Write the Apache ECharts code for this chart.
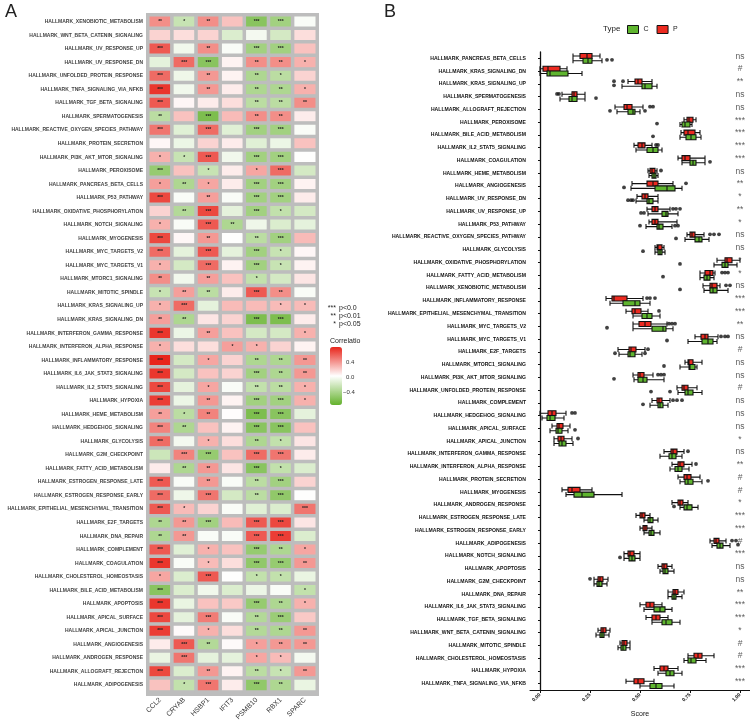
<!DOCTYPE html>
<html>
<head>
<meta charset="utf-8">
<script src="https://cdn.jsdelivr.net/npm/echarts@6/dist/echarts.min.js"></script>
<style>
  html, body { margin: 0; padding: 0; background: #fff; }
  #chart { width: 750px; height: 723px; }
</style>
</head>
<body>
<div id="chart"></div>
<script>
// ---- panel A: correlation heatmap ----
const heatRows = ['XENOBIOTIC_METABOLISM','WNT_BETA_CATENIN_SIGNALING','UV_RESPONSE_UP','UV_RESPONSE_DN',
  'UNFOLDED_PROTEIN_RESPONSE','TNFA_SIGNALING_VIA_NFKB','TGF_BETA_SIGNALING','SPERMATOGENESIS',
  'REACTIVE_OXYGEN_SPECIES_PATHWAY','PROTEIN_SECRETION','PI3K_AKT_MTOR_SIGNALING','PEROXISOME',
  'PANCREAS_BETA_CELLS','P53_PATHWAY','OXIDATIVE_PHOSPHORYLATION','NOTCH_SIGNALING','MYOGENESIS',
  'MYC_TARGETS_V2','MYC_TARGETS_V1','MTORC1_SIGNALING','MITOTIC_SPINDLE','KRAS_SIGNALING_UP',
  'KRAS_SIGNALING_DN','INTERFERON_GAMMA_RESPONSE','INTERFERON_ALPHA_RESPONSE','INFLAMMATORY_RESPONSE',
  'IL6_JAK_STAT3_SIGNALING','IL2_STAT5_SIGNALING','HYPOXIA','HEME_METABOLISM','HEDGEHOG_SIGNALING',
  'GLYCOLYSIS','G2M_CHECKPOINT','FATTY_ACID_METABOLISM','ESTROGEN_RESPONSE_LATE','ESTROGEN_RESPONSE_EARLY',
  'EPITHELIAL_MESENCHYMAL_TRANSITION','E2F_TARGETS','DNA_REPAIR','COMPLEMENT','COAGULATION',
  'CHOLESTEROL_HOMEOSTASIS','BILE_ACID_METABOLISM','APOPTOSIS','APICAL_SURFACE','APICAL_JUNCTION',
  'ANGIOGENESIS','ANDROGEN_RESPONSE','ALLOGRAFT_REJECTION','ADIPOGENESIS'];
const genes = ['CCL2','CRYAB','HSBP1','IFIT3','PSMB10','RBX1','SPARC'];

const corCCL2 = [0.35,0.15,0.5,-0.08,0.45,0.6,0.5,-0.25,0.42,0.05, 0.25,-0.4,0.3,0.55,0.15,0.25,0.55,0.45,0.25,0.35,
  -0.2,0.25,0.3,0.6,0.25,0.65,0.6,0.55,0.58,0.3, 0.38,0.45,-0.18,0.08,0.5,0.45,0.5,-0.3,-0.3,0.5,
  0.6,0.28,-0.45,0.6,0.55,0.58,0.08,-0.06,0.55,0.2];
const corCRYAB = [-0.2,0.12,-0.03,0.45,-0.04,-0.03,0.05,0.2,-0.1,-0.05, -0.2,0.2,-0.3,0.0,-0.28,0.0,0.05,-0.08,-0.15,-0.03,
  0.3,0.45,-0.3,-0.05,0.12,-0.15,-0.15,-0.08,-0.05,-0.25, -0.3,-0.02,0.38,-0.3,0.0,-0.04,0.22,0.32,0.32,-0.1,
  0.0,-0.12,-0.12,-0.06,-0.08,0.04,0.5,0.42,-0.12,-0.22];
const corHSBP1 = [0.35,0.15,0.35,-0.45,0.32,0.32,0.08,-0.5,0.45,0.15, 0.5,-0.2,0.28,0.3,0.55,0.5,0.32,0.5,0.45,0.3,
  -0.25,-0.08,0.1,0.3,0.12,0.28,0.2,0.28,0.32,0.38, 0.2,0.25,-0.4,0.32,0.32,0.42,0.15,-0.35,0.0,0.25,
  0.22,0.5,-0.03,0.2,0.4,0.25,-0.28,-0.08,0.32,0.42];
const corIFIT3 = [0.2,-0.12,0.0,0.06,0.06,0.08,0.12,0.22,-0.1,0.08, -0.03,0.08,0.08,0.0,-0.08,-0.3,0.02,-0.08,0.06,0.2,
  0.08,0.22,0.15,0.2,0.3,0.15,0.15,0.0,0.06,0.03, 0.06,0.12,0.2,0.1,0.0,-0.15,0.0,0.22,0.0,0.2,
  0.12,0.02,-0.12,0.18,0.0,0.12,0.04,-0.08,0.06,0.08];
const corPSMB10 = [-0.45,-0.02,-0.35,0.35,-0.3,-0.3,-0.25,0.35,-0.35,-0.1, -0.35,0.28,-0.35,-0.35,-0.35,-0.04,-0.25,-0.35,-0.35,-0.22,
  0.5,0.22,-0.5,-0.15,0.25,-0.3,-0.35,-0.22,-0.35,-0.5, -0.45,-0.3,0.45,-0.45,-0.25,-0.25,-0.1,0.5,0.5,-0.4,
  -0.42,-0.22,-0.05,-0.4,-0.28,-0.28,0.3,0.28,-0.25,-0.42];
const corRBX1 = [-0.35,-0.15,-0.35,0.35,-0.25,-0.3,-0.25,0.35,-0.35,-0.05, -0.35,0.45,-0.35,-0.35,-0.22,-0.12,-0.35,-0.2,-0.2,-0.15,
  0.35,0.22,-0.5,-0.15,0.15,-0.3,-0.3,-0.25,-0.35,-0.45, -0.45,-0.22,0.42,-0.22,-0.35,-0.42,-0.12,0.55,0.58,-0.3,
  -0.4,-0.22,0.0,-0.3,-0.38,-0.3,0.32,0.22,-0.2,-0.3];
const corSPARC = [0.0,0.12,0.2,0.25,0.15,0.25,0.35,0.08,0.0,0.2, 0.02,-0.15,0.06,0.08,-0.15,-0.08,0.22,0.05,0.06,0.1,
  0.0,0.22,0.08,0.25,0.06,0.32,0.32,0.25,0.25,-0.08, 0.2,0.1,0.08,-0.12,0.15,0.02,0.42,0.1,-0.12,0.28,
  0.32,-0.06,-0.22,0.25,0.18,0.32,0.32,-0.02,0.32,-0.06];

const sigCCL2 = ['**','','***','','***','***','***','**','***','', '*','***','*','***','','*','***','***','*','**',
  '*','*','**','***','*','***','***','***','***','**', '***','***','','','***','***','***','**','**','***',
  '***','*','***','***','***','***','','','***',''];
const sigCRYAB = ['*','','','***','','','','','','', '*','','**','','**','','','','','',
  '**','***','**','','','','','','','*', '**','','***','**','','','*','**','**','',
  '','','','','','','***','***','','*'];
const sigHSBP1 = ['**','','**','***','**','**','','***','***','', '***','*','*','**','***','***','**','***','***','**',
  '**','','','**','','*','','*','**','**', '','*','***','**','**','***','','***','','*',
  '*','***','','','***','*','**','','**','***'];
const sigIFIT3 = ['','','','','','','','','','', '','','','','','**','','','','',
  '','','','','*','','','','','', '','','','','','','','','','',
  '','','','','','','','','',''];
const sigPSMB10 = ['***','','***','**','**','**','**','**','***','', '***','*','***','***','***','','**','***','***','*',
  '***','','***','','*','**','***','**','***','***', '***','**','***','***','**','**','','***','***','***',
  '***','*','','***','**','**','*','*','**','***'];
const sigRBX1 = ['***','','***','**','*','**','**','**','***','', '***','***','***','***','*','','***','*','*','',
  '**','*','***','','','**','**','**','***','***', '***','*','***','*','***','***','','***','***','**',
  '***','*','','**','***','**','**','*','*','**'];
const sigSPARC = ['','','','*','','*','**','','','', '','','','','','','','','','',
  '','*','','*','','**','**','*','*','', '','','','','','','***','','','*',
  '**','','*','*','','**','**','','**',''];

// ---- panel B: score boxplots ----
const boxRows = ['PANCREAS_BETA_CELLS','KRAS_SIGNALING_DN','KRAS_SIGNALING_UP','SPERMATOGENESIS',
  'ALLOGRAFT_REJECTION','PEROXISOME','BILE_ACID_METABOLISM','IL2_STAT5_SIGNALING','COAGULATION',
  'HEME_METABOLISM','ANGIOGENESIS','UV_RESPONSE_DN','UV_RESPONSE_UP','P53_PATHWAY',
  'REACTIVE_OXYGEN_SPECIES_PATHWAY','GLYCOLYSIS','OXIDATIVE_PHOSPHORYLATION','FATTY_ACID_METABOLISM',
  'XENOBIOTIC_METABOLISM','INFLAMMATORY_RESPONSE','EPITHELIAL_MESENCHYMAL_TRANSITION','MYC_TARGETS_V2',
  'MYC_TARGETS_V1','E2F_TARGETS','MTORC1_SIGNALING','PI3K_AKT_MTOR_SIGNALING','UNFOLDED_PROTEIN_RESPONSE',
  'COMPLEMENT','HEDGEHOG_SIGNALING','APICAL_SURFACE','APICAL_JUNCTION','INTERFERON_GAMMA_RESPONSE',
  'INTERFERON_ALPHA_RESPONSE','PROTEIN_SECRETION','MYOGENESIS','ANDROGEN_RESPONSE','ESTROGEN_RESPONSE_LATE',
  'ESTROGEN_RESPONSE_EARLY','ADIPOGENESIS','NOTCH_SIGNALING','APOPTOSIS','G2M_CHECKPOINT','DNA_REPAIR',
  'IL6_JAK_STAT3_SIGNALING','TGF_BETA_SIGNALING','WNT_BETA_CATENIN_SIGNALING','MITOTIC_SPINDLE',
  'CHOLESTEROL_HOMEOSTASIS','HYPOXIA','TNFA_SIGNALING_VIA_NFKB'];

// [min, Q1, median, Q3, max]
const boxP = [
  [0.165,0.20,0.235,0.26,0.30],[0.0,0.015,0.04,0.10,0.135],[0.44,0.475,0.49,0.51,0.56],[0.11,0.16,0.17,0.185,0.225],
  [0.375,0.42,0.435,0.46,0.515],[0.72,0.735,0.745,0.765,0.78],[0.705,0.72,0.74,0.775,0.80],[0.47,0.49,0.51,0.525,0.56],
  [0.69,0.71,0.725,0.75,0.825],[0.54,0.55,0.56,0.575,0.585],[0.46,0.535,0.565,0.59,0.665],[0.485,0.51,0.525,0.54,0.59],
  [0.535,0.56,0.575,0.59,0.65],[0.545,0.56,0.575,0.59,0.685],[0.735,0.75,0.76,0.775,0.82],[0.575,0.585,0.59,0.61,0.62],
  [0.885,0.925,0.935,0.96,1.0],[0.80,0.825,0.85,0.865,0.875],[0.815,0.85,0.86,0.885,0.90],[0.33,0.36,0.37,0.435,0.515],
  [0.43,0.46,0.475,0.505,0.54],[0.465,0.495,0.525,0.555,0.635],[0.775,0.805,0.825,0.84,0.89],[0.39,0.445,0.455,0.48,0.525],
  [0.725,0.74,0.745,0.765,0.81],[0.465,0.49,0.50,0.52,0.565],[0.685,0.71,0.72,0.74,0.785],[0.56,0.585,0.595,0.61,0.65],
  [0.0,0.04,0.06,0.08,0.13],[0.06,0.085,0.095,0.115,0.15],[0.07,0.09,0.105,0.12,0.16],[0.62,0.655,0.665,0.685,0.72],
  [0.66,0.69,0.70,0.72,0.76],[0.69,0.72,0.735,0.755,0.80],[0.11,0.14,0.16,0.20,0.26],[0.66,0.69,0.70,0.715,0.74],
  [0.48,0.50,0.51,0.525,0.55],[0.50,0.515,0.525,0.535,0.56],[0.85,0.87,0.88,0.895,0.93],[0.42,0.44,0.45,0.47,0.50],
  [0.59,0.61,0.62,0.635,0.66],[0.27,0.29,0.30,0.315,0.34],[0.64,0.665,0.675,0.69,0.72],[0.50,0.53,0.55,0.57,0.61],
  [0.53,0.56,0.58,0.60,0.64],[0.29,0.305,0.315,0.33,0.35],[0.40,0.41,0.42,0.435,0.45],[0.74,0.77,0.79,0.81,0.87],
  [0.57,0.60,0.62,0.64,0.69],[0.43,0.47,0.49,0.52,0.57]];
const boxC = [
  [0.165,0.215,0.24,0.26,0.31],[0.0,0.035,0.05,0.14,0.21],[0.41,0.51,0.525,0.56,0.585],[0.10,0.145,0.16,0.185,0.225],
  [0.385,0.44,0.465,0.475,0.50],[0.70,0.71,0.725,0.75,0.76],[0.70,0.73,0.755,0.78,0.805],[0.48,0.535,0.565,0.59,0.61],
  [0.71,0.75,0.765,0.78,0.825],[0.545,0.56,0.57,0.58,0.59],[0.455,0.575,0.635,0.675,0.71],[0.48,0.535,0.545,0.565,0.59],
  [0.54,0.61,0.63,0.64,0.69],[0.53,0.585,0.595,0.615,0.66],[0.725,0.775,0.795,0.81,0.845],[0.575,0.59,0.60,0.61,0.625],
  [0.87,0.91,0.925,0.94,0.985],[0.80,0.82,0.835,0.85,0.87],[0.82,0.85,0.865,0.885,0.94],[0.35,0.415,0.475,0.50,0.55],
  [0.465,0.51,0.535,0.56,0.60],[0.465,0.56,0.615,0.63,0.665],[0.74,0.81,0.84,0.865,0.885],[0.395,0.44,0.45,0.475,0.51],
  [0.70,0.745,0.75,0.775,0.785],[0.47,0.49,0.515,0.535,0.62],[0.69,0.725,0.74,0.765,0.81],[0.55,0.59,0.60,0.615,0.64],
  [0.01,0.035,0.05,0.075,0.12],[0.05,0.08,0.09,0.11,0.14],[0.07,0.095,0.11,0.13,0.165],[0.60,0.645,0.66,0.68,0.71],
  [0.65,0.675,0.69,0.71,0.745],[0.70,0.725,0.74,0.765,0.81],[0.13,0.17,0.21,0.27,0.41],[0.70,0.72,0.735,0.76,0.79],
  [0.52,0.54,0.55,0.565,0.59],[0.52,0.545,0.555,0.57,0.60],[0.86,0.885,0.90,0.915,0.95],[0.42,0.445,0.46,0.475,0.50],
  [0.60,0.615,0.625,0.64,0.67],[0.27,0.285,0.295,0.31,0.335],[0.64,0.66,0.67,0.68,0.71],[0.52,0.57,0.60,0.625,0.66],
  [0.56,0.61,0.63,0.66,0.70],[0.28,0.30,0.31,0.32,0.345],[0.39,0.405,0.415,0.43,0.45],[0.72,0.74,0.755,0.78,0.83],
  [0.59,0.63,0.65,0.67,0.71],[0.50,0.55,0.58,0.61,0.67]];
const outP = [[],[],[0.37,0.415],[0.085,0.095],[0.55,0.565],[],[],[0.58,0.59],[],[0.605],
  [0.73],[],[0.665,0.68,0.70],[],[0.85,0.87,0.895],[],[],[0.91,0.925,0.94],[0.93,0.95],[0.535,0.55,0.575],
  [0.595],[0.645,0.66,0.675],[0.905,0.925,0.94],[0.54],[],[0.59,0.605,0.62],[],[0.665,0.685,0.71],[0.16,0.175],[],
  [0.19],[0.74],[0.78],[],[],[],[],[],[0.96,0.98],[],
  [],[0.25],[],[],[],[],[],[],[],[]];
const outC = [[0.335,0.36],[],[0.37],[0.28],[0.35,0.525],[0.585],[0.565],[],[0.85],[],
  [0.42],[0.44,0.455,0.465],[0.505,0.52],[0.50,0.675,0.69],[0.68],[0.515],[0.70],[0.615],[0.70],[],
  [],[0.335],[0.635],[0.375,0.525],[0.62],[0.37],[0.555,0.65],[0.515],[],[0.175],
  [],[],[],[0.84],[],[0.67],[],[],[0.99],[0.40],
  [],[],[],[],[],[],[],[],[],[]];
const sigB = ['ns','#','**','ns','ns','***','***','***','***','ns','**','*','**','*','ns','ns','*','*','ns','***',
  '***','**','ns','#','ns','ns','#','ns','ns','ns','*','ns','**','#','#','*','***','***','#','***',
  'ns','ns','**','***','***','*','#','#','***','***'];
const scoreTicks = [0, 0.25, 0.5, 0.75, 1];

const corr = [corCCL2, corCRYAB, corHSBP1, corIFIT3, corPSMB10, corRBX1, corSPARC];
const sigs = [sigCCL2, sigCRYAB, sigHSBP1, sigIFIT3, sigPSMB10, sigRBX1, sigSPARC];
const heatData = [];
genes.forEach((g, gi) => {
  corr[gi].forEach((v, ri) => heatData.push({ value: [gi, ri, v], sig: sigs[gi][ri] }));
});

const outPoints = (arr) => {
  const pts = [];
  arr.forEach((vals, i) => vals.forEach(v => pts.push([v, i])));
  return pts;
};

const font = 'Liberation Sans';
const red = '#ec2a20';
const green = '#5fb52f';
const chart = echarts.init(document.getElementById('chart'));

const txt = (x, y, text, size, extra) => ({
  type: 'text', x, y,
  style: Object.assign({ text, fontSize: size, fill: '#222', verticalAlign: 'middle', fontFamily: font }, extra || {})
});

chart.setOption({
  animation: false,
  textStyle: { fontFamily: font },
  graphic: [
    { type: 'rect', shape: { x: 146, y: 13, width: 173, height: 683 }, style: { fill: '#bdbdbd' }, z: 0 },
    txt(5, 12, 'A', 18),
    txt(384, 12, 'B', 18),
    txt(336, 308, '***', 7, { align: 'right' }),
    txt(336, 316, '**', 7, { align: 'right' }),
    txt(336, 324, '*', 7, { align: 'right' }),
    txt(339, 308, 'p<0.0', 7),
    txt(339, 316, 'p<0.01', 7),
    txt(339, 324, 'p<0.05', 7),
    txt(330, 341, 'Correlatio', 7),
    txt(346, 362, '0.4', 6, { fill: '#333' }),
    txt(346, 377, '0.0', 6, { fill: '#333' }),
    txt(343, 392, '\u22120.4', 6, { fill: '#333' }),
    txt(603, 29, 'Type', 8)
  ],
  visualMap: {
    type: 'continuous', seriesIndex: 0, dimension: 2,
    min: -0.6, max: 0.65,
    inRange: { color: ['#64b22c', '#ffffff', '#e8251b'] },
    left: 315, top: 332, itemWidth: 12, itemHeight: 58,
    calculable: false, text: null, hoverLink: false
  },
  legend: {
    data: [
      { name: 'C', itemStyle: { color: green, borderColor: '#111', borderWidth: 1 } },
      { name: 'P', itemStyle: { color: red, borderColor: '#111', borderWidth: 1 } }
    ],
    left: 622, top: 20, itemWidth: 11, itemHeight: 8, itemGap: 8, icon: 'rect',
    textStyle: { fontSize: 7, color: '#222' },
    selectedMode: false
  },
  grid: [
    { left: 148, top: 15, width: 169, height: 679 },
    { left: 530, top: 52, width: 220, height: 640 }
  ],
  xAxis: [
    {
      gridIndex: 0, type: 'category', data: genes,
      axisLine: { show: false }, axisTick: { show: false },
      axisLabel: { rotate: 45, fontSize: 7, color: '#333', margin: 7, interval: 0 }
    },
    {
      gridIndex: 1, type: 'value', min: -0.05, max: 1.05,
      axisLine: { show: true, lineStyle: { color: '#111', width: 1 } },
      axisTick: { show: true, length: 3, customValues: scoreTicks, lineStyle: { color: '#111' } },
      axisLabel: {
        customValues: scoreTicks, rotate: 45, fontSize: 5, fontWeight: 'bold', color: '#111', margin: 4,
        formatter: v => v.toFixed(2)
      },
      splitLine: { show: false },
      name: 'Score', nameLocation: 'middle', nameGap: 21,
      nameTextStyle: { fontSize: 7, color: '#111' }
    }
  ],
  yAxis: [
    {
      gridIndex: 0, type: 'category', inverse: true, data: heatRows.map(n => 'HALLMARK_' + n),
      axisLine: { show: false }, axisTick: { show: false },
      axisLabel: { fontSize: 5, fontWeight: 'bold', color: '#444', margin: 5, interval: 0 }
    },
    {
      gridIndex: 1, type: 'category', inverse: true, data: boxRows.map(n => 'HALLMARK_' + n),
      axisLine: { show: true, lineStyle: { color: '#111', width: 1.3 } },
      axisTick: { show: true, length: 2, alignWithLabel: true, lineStyle: { color: '#111' } },
      axisLabel: { fontSize: 5.1, fontWeight: 'bold', color: '#111', margin: 4, interval: 0 }
    }
  ],
  series: [
    {
      type: 'heatmap', xAxisIndex: 0, yAxisIndex: 0, data: heatData,
      itemStyle: { borderColor: '#bdbdbd', borderWidth: 3.5 },
      label: { show: true, formatter: p => p.data.sig, fontSize: 5, color: '#222', fontWeight: 'bold' },
      emphasis: { disabled: true }
    },
    {
      name: 'P', type: 'boxplot', xAxisIndex: 1, yAxisIndex: 1, data: boxP, boxWidth: [5, 5],
      itemStyle: { color: red, borderColor: '#111', borderWidth: 1.1 },
      emphasis: { disabled: true }
    },
    {
      name: 'C', type: 'boxplot', xAxisIndex: 1, yAxisIndex: 1, data: boxC, boxWidth: [5, 5],
      itemStyle: { color: green, borderColor: '#111', borderWidth: 1.1 },
      emphasis: { disabled: true }
    },
    {
      type: 'scatter', xAxisIndex: 1, yAxisIndex: 1, data: outPoints(outP),
      symbolSize: 3.8, symbolOffset: [0, -2.7], itemStyle: { color: '#111' }, z: 5
    },
    {
      type: 'scatter', xAxisIndex: 1, yAxisIndex: 1, data: outPoints(outC),
      symbolSize: 3.8, symbolOffset: [0, 1.4], itemStyle: { color: '#111' }, z: 5
    },
    {
      type: 'scatter', xAxisIndex: 1, yAxisIndex: 1,
      data: sigB.map((s, i) => ({ value: [1.0, i], sig: s })),
      symbolSize: 1, itemStyle: { color: 'transparent' },
      label: { show: true, position: 'inside', formatter: p => p.data.sig, fontSize: 8.5, color: '#333', offset: [0, -2] }
    }
  ]
});
</script>
</body>
</html>
